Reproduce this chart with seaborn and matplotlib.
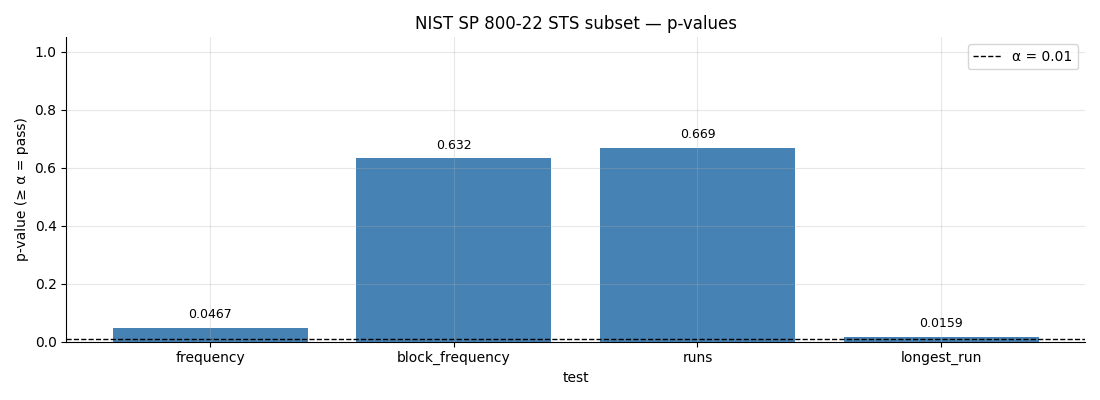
import matplotlib
matplotlib.use("Agg")
import matplotlib.pyplot as plt
import pandas as pd
import seaborn as sns

tests = ["frequency", "block_frequency", "runs", "longest_run"]
p_values = [0.0467, 0.632, 0.669, 0.0159]
value_labels = ["0.0467", "0.632", "0.669", "0.0159"]
alpha = 0.01

df = pd.DataFrame({"test": tests, "p": p_values})

fig, ax = plt.subplots(figsize=(11, 4), dpi=100)
sns.barplot(data=df, x="test", y="p", color="steelblue", saturation=1, width=0.8, ax=ax)

# restore matplotlib-style x margins
ax.set_autoscalex_on(True)
ax.margins(x=0.05)
ax.relim()
ax.autoscale_view()

for i, (v, lab) in enumerate(zip(p_values, value_labels)):
    ax.annotate(lab, (i, v), xytext=(0, 5), textcoords="offset points",
                ha="center", va="bottom", fontsize=9)

ax.axhline(alpha, color="black", linestyle="--", linewidth=1, label=f"α = {alpha}")
ax.set_ylim(0, 1.05)
ax.grid(True, alpha=0.3)
ax.set_axisbelow(False)
sns.despine(ax=ax)
ax.set_xlabel("test")
ax.set_ylabel("p-value (≥ α = pass)")
ax.set_title("NIST SP 800-22 STS subset — p-values")
ax.legend(loc="upper right")
plt.tight_layout()
plt.savefig("out.png", dpi=100)
